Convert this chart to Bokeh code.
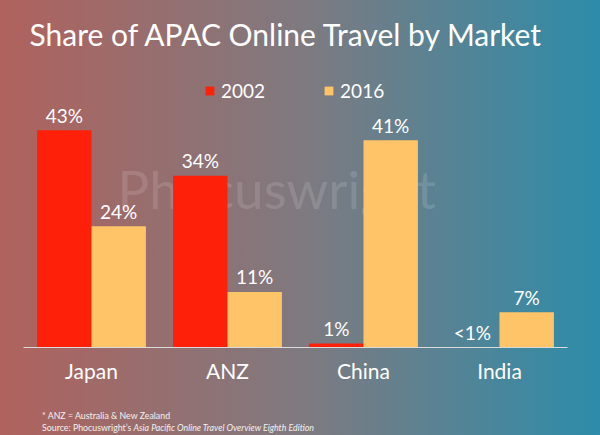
from bokeh.plotting import figure
from bokeh.layouts import column
from bokeh.models import (ColumnDataSource, FactorRange, Range1d, Legend,
                          LegendItem, LabelSet, Label, Div)
from bokeh.core.properties import value
from bokeh.transform import dodge
from bokeh.embed import file_html
from bokeh.resources import INLINE

markets = ["Japan", "ANZ", "China", "India"]
share_2002 = [43, 34, 0.8, 0]
share_2016 = [24, 11, 41, 7]
labels_2002 = ["43%", "34%", "1%", "<1%"]
labels_2016 = ["24%", "11%", "41%", "7%"]

FONT = "Lato"
RED = "#FF200A"
ORANGE = "#FFC468"

src = ColumnDataSource(dict(market=markets, s2002=share_2002, s2016=share_2016,
                            l2002=labels_2002, l2016=labels_2016))

p = figure(width=600, height=395, x_range=FactorRange(*markets),
           y_range=Range1d(0, 57.2), output_backend="svg",
           toolbar_location=None, y_axis_location=None,
           min_border_left=23, min_border_right=33,
           min_border_top=58, min_border_bottom=48)

p.background_fill_color = None
p.border_fill_color = None
p.outline_line_color = None
p.grid.grid_line_color = None

p.title.text = "Share of APAC Online Travel by Market"
p.title.text_font = FONT
p.title.text_font_size = "30px"
p.title.text_font_style = "normal"
p.title.text_color = "white"
p.title.offset = 6
p.title.standoff = 13

# faint watermark behind the bars
p.add_layout(Label(x=94, y=128, x_units="screen", y_units="screen",
                   text="Phocuswright", text_font=FONT, text_font_size="53px",
                   text_color="white", text_alpha=0.13, level="underlay"))

r1 = p.vbar(x=dodge("market", -0.2, range=p.x_range), top="s2002", width=0.4,
            source=src, fill_color=RED, line_color=None)
r2 = p.vbar(x=dodge("market", 0.2, range=p.x_range), top="s2016", width=0.4,
            source=src, fill_color=ORANGE, line_color=None)

for col, off in (("2002", -0.2), ("2016", 0.2)):
    p.add_layout(LabelSet(x=dodge("market", off, range=p.x_range), y="s" + col,
                          text="l" + col, source=src, y_offset=15,
                          text_align="center", text_baseline="middle",
                          text_font=value(FONT), text_font_size=value("19px"),
                          text_color="white"))

legend = Legend(items=[LegendItem(label="2002", renderers=[r1]),
                       LegendItem(label="2016", renderers=[r2])],
                orientation="horizontal", location=(181, 245),
                glyph_width=11, glyph_height=11, label_standoff=6, spacing=58,
                label_text_font=FONT, label_text_font_size="19px",
                label_text_color="white", border_line_color=None,
                background_fill_alpha=0, padding=0, margin=0)
p.add_layout(legend)

p.xaxis.axis_line_color = "#DADADA"
p.xaxis.major_tick_line_color = None
p.xaxis.major_label_text_font = FONT
p.xaxis.major_label_text_font_size = "21px"
p.xaxis.major_label_text_color = "white"
p.xaxis.major_label_standoff = 4

notes = Div(width=600, height=40,
            text="* ANZ = Australia &amp; New Zealand<br>"
                 "Source: Phocuswright\u2019s <i>Asia Pacific Online Travel "
                 "Overview Eighth Edition</i>",
            styles={"font-family": FONT, "font-size": "8.8px",
                    "line-height": "12px", "color": "#F2F2F2",
                    "padding-left": "37px", "padding-top": "10px",
                    "box-sizing": "border-box"})

page = column(p, notes, spacing=0)
page.styles = {"background": "linear-gradient(to right, #B0625D, #7E7A80 50%, #2A8DAB)",
               "position": "absolute", "left": "0px", "top": "0px"}

open("out.html", "w").write(file_html(page, INLINE))
